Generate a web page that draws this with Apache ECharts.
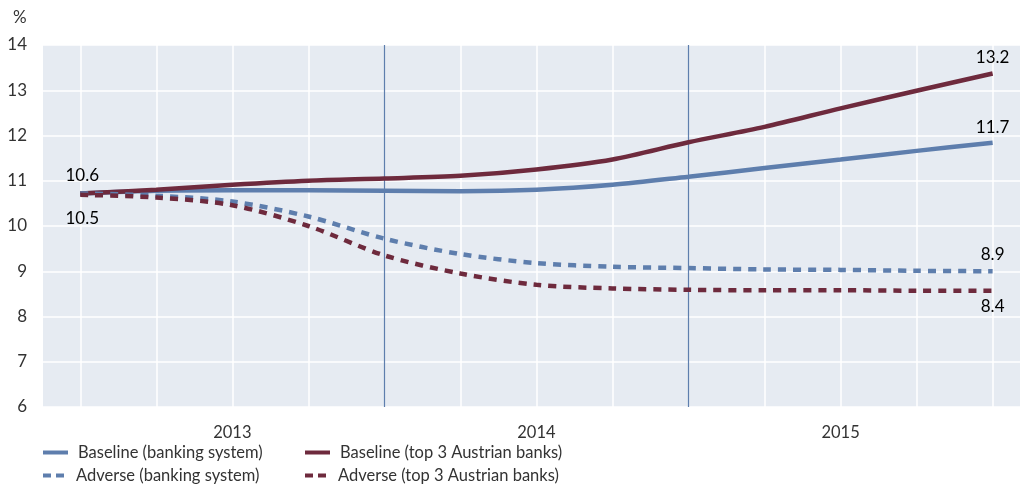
<!DOCTYPE html>
<html>
<head>
<meta charset="utf-8">
<script src="https://cdn.jsdelivr.net/npm/echarts@6/dist/echarts.min.js"></script>
<style>html,body{margin:0;padding:0;background:#fff}#c{width:1020px;height:488px}</style>
</head>
<body>
<div id="c"></div>
<script>
// quarters: Q4 2012 ... Q4 2015 (index 0..12)
const quarters = [0,1,2,3,4,5,6,7,8,9,10,11,12];
const yearLabels = {2:'2013', 6:'2014', 10:'2015'};
const yTicks = [6,7,8,9,10,11,12,13,14];
const baselineBank = [10.72,10.78,10.79,10.79,10.78,10.77,10.80,10.91,11.09,11.28,11.47,11.66,11.84];
const baselineTop3 = [10.72,10.80,10.91,11.00,11.05,11.11,11.25,11.47,11.85,12.19,12.60,12.99,13.37];
const adverseBank  = [10.72,10.67,10.54,10.21,9.72,9.38,9.18,9.10,9.07,9.04,9.03,9.01,9.00];
const adverseTop3  = [10.69,10.63,10.46,10.00,9.35,8.95,8.70,8.62,8.59,8.58,8.58,8.57,8.57];
const names = ['Baseline (banking system)','Baseline (top 3 Austrian banks)','Adverse (banking system)','Adverse (top 3 Austrian banks)'];

const BLUE = '#5e7ead', RED = '#6e2a3d', FONT = 'Lato';
const DASH_ICON = 'path://M0,0H8V4H0Z M13,0H21V4H13Z';
const lbl = (txt, pos, dist, off) => ({show:true, formatter:txt, position:pos, distance:dist, offset:off||[0,0],
  color:'#000', fontSize:17, fontFamily:FONT});

function mk(name, vals, color, dashed, labels){
  return {
    name, type:'line', symbol:'circle', symbolSize:0, showSymbol:true, showAllSymbol:true, z:10, smooth:0.3,
    lineStyle:{color, width:4.5, type: dashed ? [8,7] : 'solid'},
    itemStyle:{color},
    label:{show:false},
    data: vals.map((v,i)=>{
      const p = {value:[quarters[i], v]};
      if (labels[i]) p.label = labels[i];
      return p;
    })
  };
}
function leg(name, icon, left, top){
  return {left, top, padding:0, itemWidth:25, itemHeight:4, icon, data:[name],
    textStyle:{fontSize:16.5, color:'#333', fontFamily:FONT, padding:[0,0,0,5]}};
}

const chart = echarts.init(document.getElementById('c'));
chart.setOption({
  animation:false,
  title:{text:'%', left:8, top:4, textStyle:{fontSize:17, fontWeight:'normal', color:'#333', fontFamily:FONT}},
  grid:{left:43, right:0, top:45, bottom:81, show:true, backgroundColor:'#e6ebf2', borderWidth:0},
  xAxis:{type:'value', min:-0.49, max:12.36,
    axisLine:{show:false}, axisTick:{show:false}, splitLine:{show:false},
    axisLabel:{customValues:[2,6,10], formatter:v=>yearLabels[v]||'', margin:17, fontSize:16.5, color:'#333', fontFamily:FONT}},
  yAxis:{type:'value', min:yTicks[0], max:yTicks[yTicks.length-1], interval:1,
    axisLine:{show:false}, axisTick:{show:false},
    splitLine:{lineStyle:{color:'#ffffff', width:1.5}},
    axisLabel:{margin:16, fontSize:17, color:'#333', fontFamily:FONT}},
  legend:[
    leg(names[0], 'rect', 43, 444),
    leg(names[2], DASH_ICON, 43, 467),
    leg(names[1], 'rect', 305, 444),
    leg(names[3], DASH_ICON, 305, 467)
  ],
  series:[
    {type:'line', data:[], z:1, silent:true,
      markLine:{z:1, silent:true, symbol:'none', label:{show:false},
        data: quarters.map(q=>({xAxis:q, lineStyle:{color: (q===4||q===8)?BLUE:'#ffffff', width:(q===4||q===8)?1.2:1.5, type:'solid'}}))}},
    mk(names[0], baselineBank, BLUE, false, {0:lbl('10.6','top',9,[2,0]), 12:lbl('11.7','top',7)}),
    mk(names[1], baselineTop3, RED, false, {12:lbl('13.2','top',7)}),
    mk(names[2], adverseBank, BLUE, true, {12:lbl('8.9','top',8)}),
    mk(names[3], adverseTop3, RED, true, {0:lbl('10.5','bottom',15,[2,0]), 12:lbl('8.4','bottom',7)})
  ]
});
</script>
</body>
</html>
